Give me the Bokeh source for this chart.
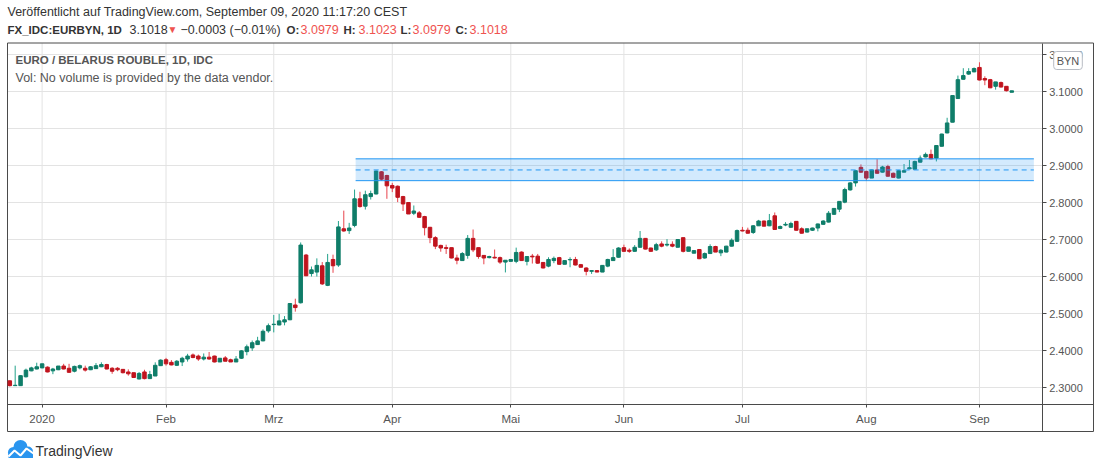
import pandas as pd
from bokeh.plotting import figure
from bokeh.models import (Range1d, FixedTicker, NumeralTickFormatter, Label,
                          LinearAxis, ColumnDataSource)
from bokeh.embed import file_html
from bokeh.resources import INLINE

# ---------------- data ----------------
dates = pd.bdate_range("2019-12-24", "2020-09-09")

opens = [2.318, 2.305, 2.305, 2.329, 2.345, 2.350, 2.353, 2.355, 2.345, 2.348,
         2.358, 2.352, 2.344, 2.353, 2.352, 2.348, 2.351, 2.356, 2.362, 2.352,
         2.352, 2.349, 2.342, 2.340, 2.323, 2.342, 2.324, 2.331, 2.359, 2.375,
         2.368, 2.360, 2.369, 2.377, 2.388, 2.385, 2.377, 2.382, 2.385, 2.369,
         2.380, 2.375, 2.369, 2.379, 2.397, 2.407, 2.416, 2.426, 2.453, 2.470,
         2.469, 2.477, 2.483, 2.523, 2.529, 2.658, 2.608, 2.612, 2.629, 2.576,
         2.646, 2.631, 2.729, 2.724, 2.738, 2.810, 2.790, 2.816, 2.823, 2.883,
         2.873, 2.846, 2.844, 2.816, 2.800, 2.771, 2.772, 2.762, 2.733, 2.705,
         2.684, 2.678, 2.678, 2.650, 2.643, 2.657, 2.703, 2.678, 2.657, 2.651,
         2.652, 2.651, 2.639, 2.641, 2.641, 2.666, 2.641, 2.655, 2.655, 2.638,
         2.628, 2.643, 2.651, 2.633, 2.645, 2.646, 2.632, 2.623, 2.614, 2.616,
         2.612, 2.628, 2.643, 2.652, 2.678, 2.671, 2.668, 2.679, 2.703, 2.677,
         2.672, 2.688, 2.685, 2.687, 2.679, 2.705, 2.668, 2.663, 2.673, 2.650,
         2.662, 2.681, 2.664, 2.666, 2.682, 2.695, 2.725, 2.725, 2.719, 2.737,
         2.750, 2.737, 2.764, 2.730, 2.739, 2.733, 2.749, 2.729, 2.720, 2.725,
         2.731, 2.741, 2.747, 2.768, 2.782, 2.801, 2.834, 2.853, 2.895, 2.884,
         2.866, 2.888, 2.882, 2.897, 2.879, 2.866, 2.882, 2.891, 2.890, 2.909,
         2.923, 2.930, 2.920, 2.952, 2.988, 3.017, 3.081, 3.133, 3.147, 3.153,
         3.165, 3.135, 3.132, 3.114, 3.124, 3.114, 3.0979]

highs = [2.319, 2.359, 2.333, 2.351, 2.356, 2.367, 2.364, 2.357, 2.353, 2.358,
         2.364, 2.364, 2.359, 2.362, 2.359, 2.358, 2.366, 2.368, 2.364, 2.355,
         2.355, 2.350, 2.349, 2.340, 2.342, 2.348, 2.345, 2.368, 2.376, 2.380,
         2.374, 2.374, 2.383, 2.391, 2.392, 2.389, 2.392, 2.396, 2.386, 2.379,
         2.385, 2.378, 2.385, 2.401, 2.416, 2.427, 2.437, 2.457, 2.473, 2.496,
         2.499, 2.493, 2.527, 2.540, 2.692, 2.661, 2.627, 2.649, 2.639, 2.661,
         2.659, 2.750, 2.778, 2.745, 2.835, 2.829, 2.832, 2.832, 2.886, 2.885,
         2.875, 2.853, 2.846, 2.818, 2.801, 2.792, 2.777, 2.764, 2.734, 2.709,
         2.686, 2.686, 2.678, 2.659, 2.666, 2.712, 2.727, 2.678, 2.658, 2.656,
         2.673, 2.654, 2.644, 2.647, 2.678, 2.668, 2.655, 2.661, 2.661, 2.639,
         2.652, 2.654, 2.653, 2.643, 2.652, 2.653, 2.634, 2.625, 2.616, 2.616,
         2.631, 2.648, 2.674, 2.679, 2.686, 2.676, 2.685, 2.723, 2.704, 2.678,
         2.691, 2.695, 2.701, 2.695, 2.700, 2.705, 2.680, 2.670, 2.674, 2.665,
         2.687, 2.683, 2.674, 2.683, 2.703, 2.727, 2.734, 2.732, 2.739, 2.753,
         2.751, 2.769, 2.773, 2.738, 2.747, 2.748, 2.750, 2.733, 2.729, 2.732,
         2.743, 2.752, 2.777, 2.784, 2.803, 2.840, 2.855, 2.887, 2.903, 2.886,
         2.889, 2.917, 2.899, 2.902, 2.881, 2.888, 2.904, 2.915, 2.913, 2.927,
         2.935, 2.943, 2.955, 2.986, 3.029, 3.089, 3.143, 3.163, 3.163, 3.165,
         3.179, 3.141, 3.134, 3.126, 3.127, 3.114, 3.1023]

lows = [2.303, 2.304, 2.304, 2.327, 2.344, 2.349, 2.352, 2.341, 2.336, 2.347,
        2.349, 2.340, 2.341, 2.349, 2.343, 2.347, 2.350, 2.355, 2.349, 2.337,
        2.344, 2.338, 2.332, 2.326, 2.322, 2.322, 2.323, 2.331, 2.358, 2.359,
        2.360, 2.358, 2.358, 2.370, 2.379, 2.372, 2.373, 2.375, 2.368, 2.369,
        2.371, 2.369, 2.369, 2.377, 2.387, 2.399, 2.415, 2.425, 2.448, 2.449,
        2.468, 2.468, 2.482, 2.505, 2.527, 2.601, 2.600, 2.600, 2.577, 2.574,
        2.610, 2.626, 2.721, 2.715, 2.733, 2.786, 2.781, 2.808, 2.822, 2.859,
        2.810, 2.828, 2.801, 2.777, 2.769, 2.766, 2.758, 2.711, 2.690, 2.674,
        2.667, 2.661, 2.649, 2.633, 2.643, 2.648, 2.666, 2.648, 2.633, 2.649,
        2.649, 2.634, 2.611, 2.640, 2.636, 2.642, 2.630, 2.635, 2.634, 2.622,
        2.625, 2.636, 2.632, 2.633, 2.625, 2.630, 2.625, 2.603, 2.607, 2.612,
        2.612, 2.625, 2.643, 2.651, 2.667, 2.664, 2.667, 2.678, 2.673, 2.667,
        2.669, 2.679, 2.681, 2.679, 2.679, 2.665, 2.668, 2.663, 2.647, 2.648,
        2.662, 2.666, 2.655, 2.665, 2.681, 2.694, 2.722, 2.716, 2.715, 2.737,
        2.736, 2.736, 2.727, 2.728, 2.736, 2.732, 2.724, 2.716, 2.719, 2.723,
        2.722, 2.740, 2.746, 2.767, 2.774, 2.798, 2.832, 2.843, 2.880, 2.859,
        2.866, 2.878, 2.881, 2.870, 2.868, 2.865, 2.882, 2.890, 2.889, 2.908,
        2.922, 2.917, 2.911, 2.951, 2.987, 3.017, 3.080, 3.132, 3.145, 3.152,
        3.130, 3.117, 3.109, 3.105, 3.111, 3.100, 3.0979]

closes = [2.305, 2.306, 2.332, 2.347, 2.353, 2.356, 2.364, 2.342, 2.350, 2.358,
          2.350, 2.341, 2.357, 2.359, 2.347, 2.356, 2.359, 2.362, 2.350, 2.344,
          2.348, 2.340, 2.337, 2.327, 2.338, 2.324, 2.335, 2.360, 2.374, 2.364,
          2.361, 2.371, 2.379, 2.385, 2.381, 2.377, 2.382, 2.377, 2.369, 2.379,
          2.371, 2.369, 2.377, 2.399, 2.410, 2.421, 2.426, 2.452, 2.467, 2.471,
          2.480, 2.483, 2.527, 2.516, 2.685, 2.602, 2.618, 2.630, 2.580, 2.638,
          2.629, 2.734, 2.723, 2.731, 2.810, 2.789, 2.821, 2.824, 2.885, 2.863,
          2.845, 2.839, 2.814, 2.796, 2.769, 2.777, 2.760, 2.732, 2.705, 2.682,
          2.677, 2.676, 2.650, 2.644, 2.662, 2.703, 2.672, 2.654, 2.650, 2.654,
          2.650, 2.639, 2.644, 2.646, 2.665, 2.643, 2.654, 2.653, 2.636, 2.623,
          2.646, 2.649, 2.633, 2.643, 2.646, 2.631, 2.625, 2.614, 2.616, 2.612,
          2.630, 2.646, 2.651, 2.677, 2.668, 2.668, 2.679, 2.703, 2.674, 2.668,
          2.686, 2.682, 2.687, 2.682, 2.700, 2.668, 2.680, 2.670, 2.648, 2.662,
          2.681, 2.666, 2.671, 2.682, 2.698, 2.724, 2.723, 2.717, 2.737, 2.750,
          2.736, 2.751, 2.727, 2.735, 2.741, 2.743, 2.725, 2.717, 2.729, 2.731,
          2.742, 2.750, 2.771, 2.784, 2.803, 2.835, 2.853, 2.886, 2.882, 2.866,
          2.888, 2.879, 2.896, 2.871, 2.868, 2.886, 2.886, 2.894, 2.911, 2.920,
          2.930, 2.918, 2.954, 2.985, 3.015, 3.089, 3.132, 3.143, 3.154, 3.162,
          3.131, 3.131, 3.110, 3.126, 3.112, 3.1021, 3.1018]

month_labels = {1: "2020", 2: "Feb", 3: "Mrz", 4: "Apr", 5: "Mai",
                6: "Jun", 7: "Jul", 8: "Aug", 9: "Sep"}
price_ticks = [2.3, 2.4, 2.5, 2.6, 2.7, 2.8, 2.9, 3.0, 3.1, 3.2]

# user-drawn zone (rectangle with a dashed middle line)
zone_bottom, zone_mid, zone_top = 2.859, 2.888, 2.918
zone_start, zone_end = 64.2, 190.1

# ---------------- layout (pixels) ----------------
W, H = 1094, 462
X0, DX = 9.3, 5.387          # pixel of bar 0, pixels per bar
Y31, PY = 91.0, 370.0        # pixel of price 3.1, pixels per price unit
PANE_L, PANE_R, PANE_T, PANE_B = 7, 1041.7, 42.5, 404.3
OUT_R, OUT_B = 1093, 431


def px2x(px):
    return (px - X0) / DX


def py2y(py):
    return 3.1 - (py - Y31) / PY


# ---------------- styles ----------------
UP_BODY, DN_BODY = "#0f7d69", "#c0141e"
UP_WICK, DN_WICK = "#22a28b", "#e8434c"
FRAME = "#4a4a4a"
GRID = "#e3e3e3"
TXT = "#555555"
RED = "#ef5350"
BLUE = "#2196f3"
LOGO = "#2a95ef"
FONT = "Liberation Sans"

idx = list(range(len(dates)))
up = [c >= o for o, c in zip(opens, closes)]
src = ColumnDataSource(dict(
    x=idx, o=opens, h=highs, l=lows, c=closes,
    top=[max(o, c) for o, c in zip(opens, closes)],
    bot=[min(o, c) for o, c in zip(opens, closes)],
    body=[UP_BODY if u else DN_BODY for u in up],
    wick=[UP_WICK if u else DN_WICK for u in up],
))

tick_pos, tick_text = [], {}
for i, d in enumerate(dates):
    if d.year == 2020 and (i == 0 or d.month != dates[i - 1].month):
        tick_pos.append(i)
        tick_text[i] = month_labels[d.month]

p = figure(width=W, height=H, x_axis_type=None, y_axis_type=None,
           x_range=Range1d(px2x(0), px2x(W)), y_range=Range1d(py2y(H), py2y(0)),
           toolbar_location=None, output_backend="svg", min_border=0)
p.background_fill_color = "white"
p.border_fill_color = "white"
p.outline_line_color = None
p.xgrid.visible = False
p.ygrid.visible = False

# grid lines of the price pane
p.segment(x0=[px2x(PANE_L)] * len(price_ticks), x1=[px2x(PANE_R)] * len(price_ticks),
          y0=price_ticks, y1=price_ticks, line_color=GRID, line_width=1)
p.segment(x0=tick_pos, x1=tick_pos, y0=[py2y(PANE_B)] * len(tick_pos),
          y1=[py2y(PANE_T)] * len(tick_pos), line_color=GRID, line_width=1)

# outer border of the chart box
p.quad(left=[px2x(PANE_L)], right=[px2x(OUT_R)], top=[py2y(PANE_T)],
       bottom=[py2y(OUT_B)], fill_color=None, line_color=FRAME, line_width=1)

# price axis (right) and time axis (below)
yax = LinearAxis(fixed_location=px2x(PANE_R), bounds=(py2y(OUT_B), py2y(PANE_T)),
                 ticker=FixedTicker(ticks=price_ticks),
                 formatter=NumeralTickFormatter(format="0.0000"))
yax.axis_line_color = FRAME
yax.major_tick_line_color = FRAME
yax.major_tick_out = 4
yax.major_tick_in = 0
yax.minor_tick_line_color = None
yax.major_label_standoff = 3
yax.major_label_text_font = FONT
yax.major_label_text_font_size = "11px"
yax.major_label_text_color = TXT
p.add_layout(yax, "right")

xax = LinearAxis(fixed_location=py2y(PANE_B), bounds=(px2x(PANE_L), px2x(OUT_R)),
                 ticker=FixedTicker(ticks=tick_pos))
xax.major_label_overrides = tick_text
xax.axis_line_color = FRAME
xax.major_tick_line_color = FRAME
xax.major_tick_out = 3
xax.major_tick_in = 0
xax.minor_tick_line_color = None
xax.major_label_standoff = 5
xax.major_label_text_font = FONT
xax.major_label_text_font_size = "11.5px"
xax.major_label_text_color = TXT
p.add_layout(xax, "below")

# candles
p.segment(x0="x", y0="l", x1="x", y1="h", line_color="wick", line_width=1, source=src)
p.vbar(x="x", width=0.65, top="top", bottom="bot", fill_color="body",
       line_color="body", line_width=1, source=src)

# zone
p.quad(left=[zone_start], right=[zone_end], top=[zone_top], bottom=[zone_bottom],
       fill_color=BLUE, fill_alpha=0.2, line_color=None)
p.segment(x0=[zone_start, zone_start], x1=[zone_end, zone_end],
          y0=[zone_top, zone_bottom], y1=[zone_top, zone_bottom],
          line_color=BLUE, line_width=1)
p.segment(x0=[zone_start], x1=[zone_end], y0=[zone_mid], y1=[zone_mid],
          line_color=BLUE, line_width=1, line_dash="5 4")


def lab(px, py, text, size="12.5px", color="#333333", style="normal", align="left", **kw):
    p.add_layout(Label(x=px2x(px), y=py2y(py), text=text,
                       text_font=FONT, text_font_size=size, text_color=color,
                       text_font_style=style, text_baseline="middle",
                       text_align=align, **kw))


# header
lab(7, 11, "Veröffentlicht auf TradingView.com, September 09, 2020 11:17:20 CEST",
    size="12.5px")
hy = 29
lab(7, hy, "FX_IDC:EURBYN, 1D", size="11.5px", style="bold")
lab(129, hy, "3.1018")
lab(167, hy, "▼", size="10px", color=RED)
lab(180, hy, "−0.0003 (−0.01%)")
lab(286, hy, "O:", size="11.5px", style="bold")
lab(300, hy, "3.0979", color=RED)
lab(343, hy, "H:", size="11.5px", style="bold")
lab(358, hy, "3.1023", color=RED)
lab(400, hy, "L:", size="11.5px", style="bold")
lab(412, hy, "3.0979", color=RED)
lab(455, hy, "C:", size="11.5px", style="bold")
lab(469, hy, "3.1018", color=RED)

# legend inside chart
lab(15, 59, "EURO / BELARUS ROUBLE, 1D, IDC", size="11.5px", color=TXT, style="bold")
lab(15, 77, "Vol: No volume is provided by the data vendor.", size="12.5px", color=TXT)

# currency badge over the price scale
lab(1067.5, 60, "BYN", size="11px", color=TXT, align="center",
    background_fill_color="white", border_line_color="#b8bcc4",
    padding=3, border_radius=3)

# footer: TradingView logo (cloud with a chart line) and name
logo_px = [13, 20, 27.5]
logo_py = [452, 446.5, 451]
logo_d = [11, 14, 10]
p.scatter(x=[px2x(v) for v in logo_px], y=[py2y(v) for v in logo_py],
          size=logo_d, marker="circle", fill_color=LOGO, line_color=None)
p.quad(left=[px2x(8)], right=[px2x(32.5)], top=[py2y(451)], bottom=[py2y(457.5)],
       fill_color=LOGO, line_color=None)
p.line(x=[px2x(v) for v in [8, 14, 20, 26, 33]],
       y=[py2y(v) for v in [456, 450, 455, 448, 453]],
       line_color="white", line_width=2)
lab(35, 450, "TradingView", size="14px", color="#333333")

open("out.html", "w").write(file_html(p, INLINE))
